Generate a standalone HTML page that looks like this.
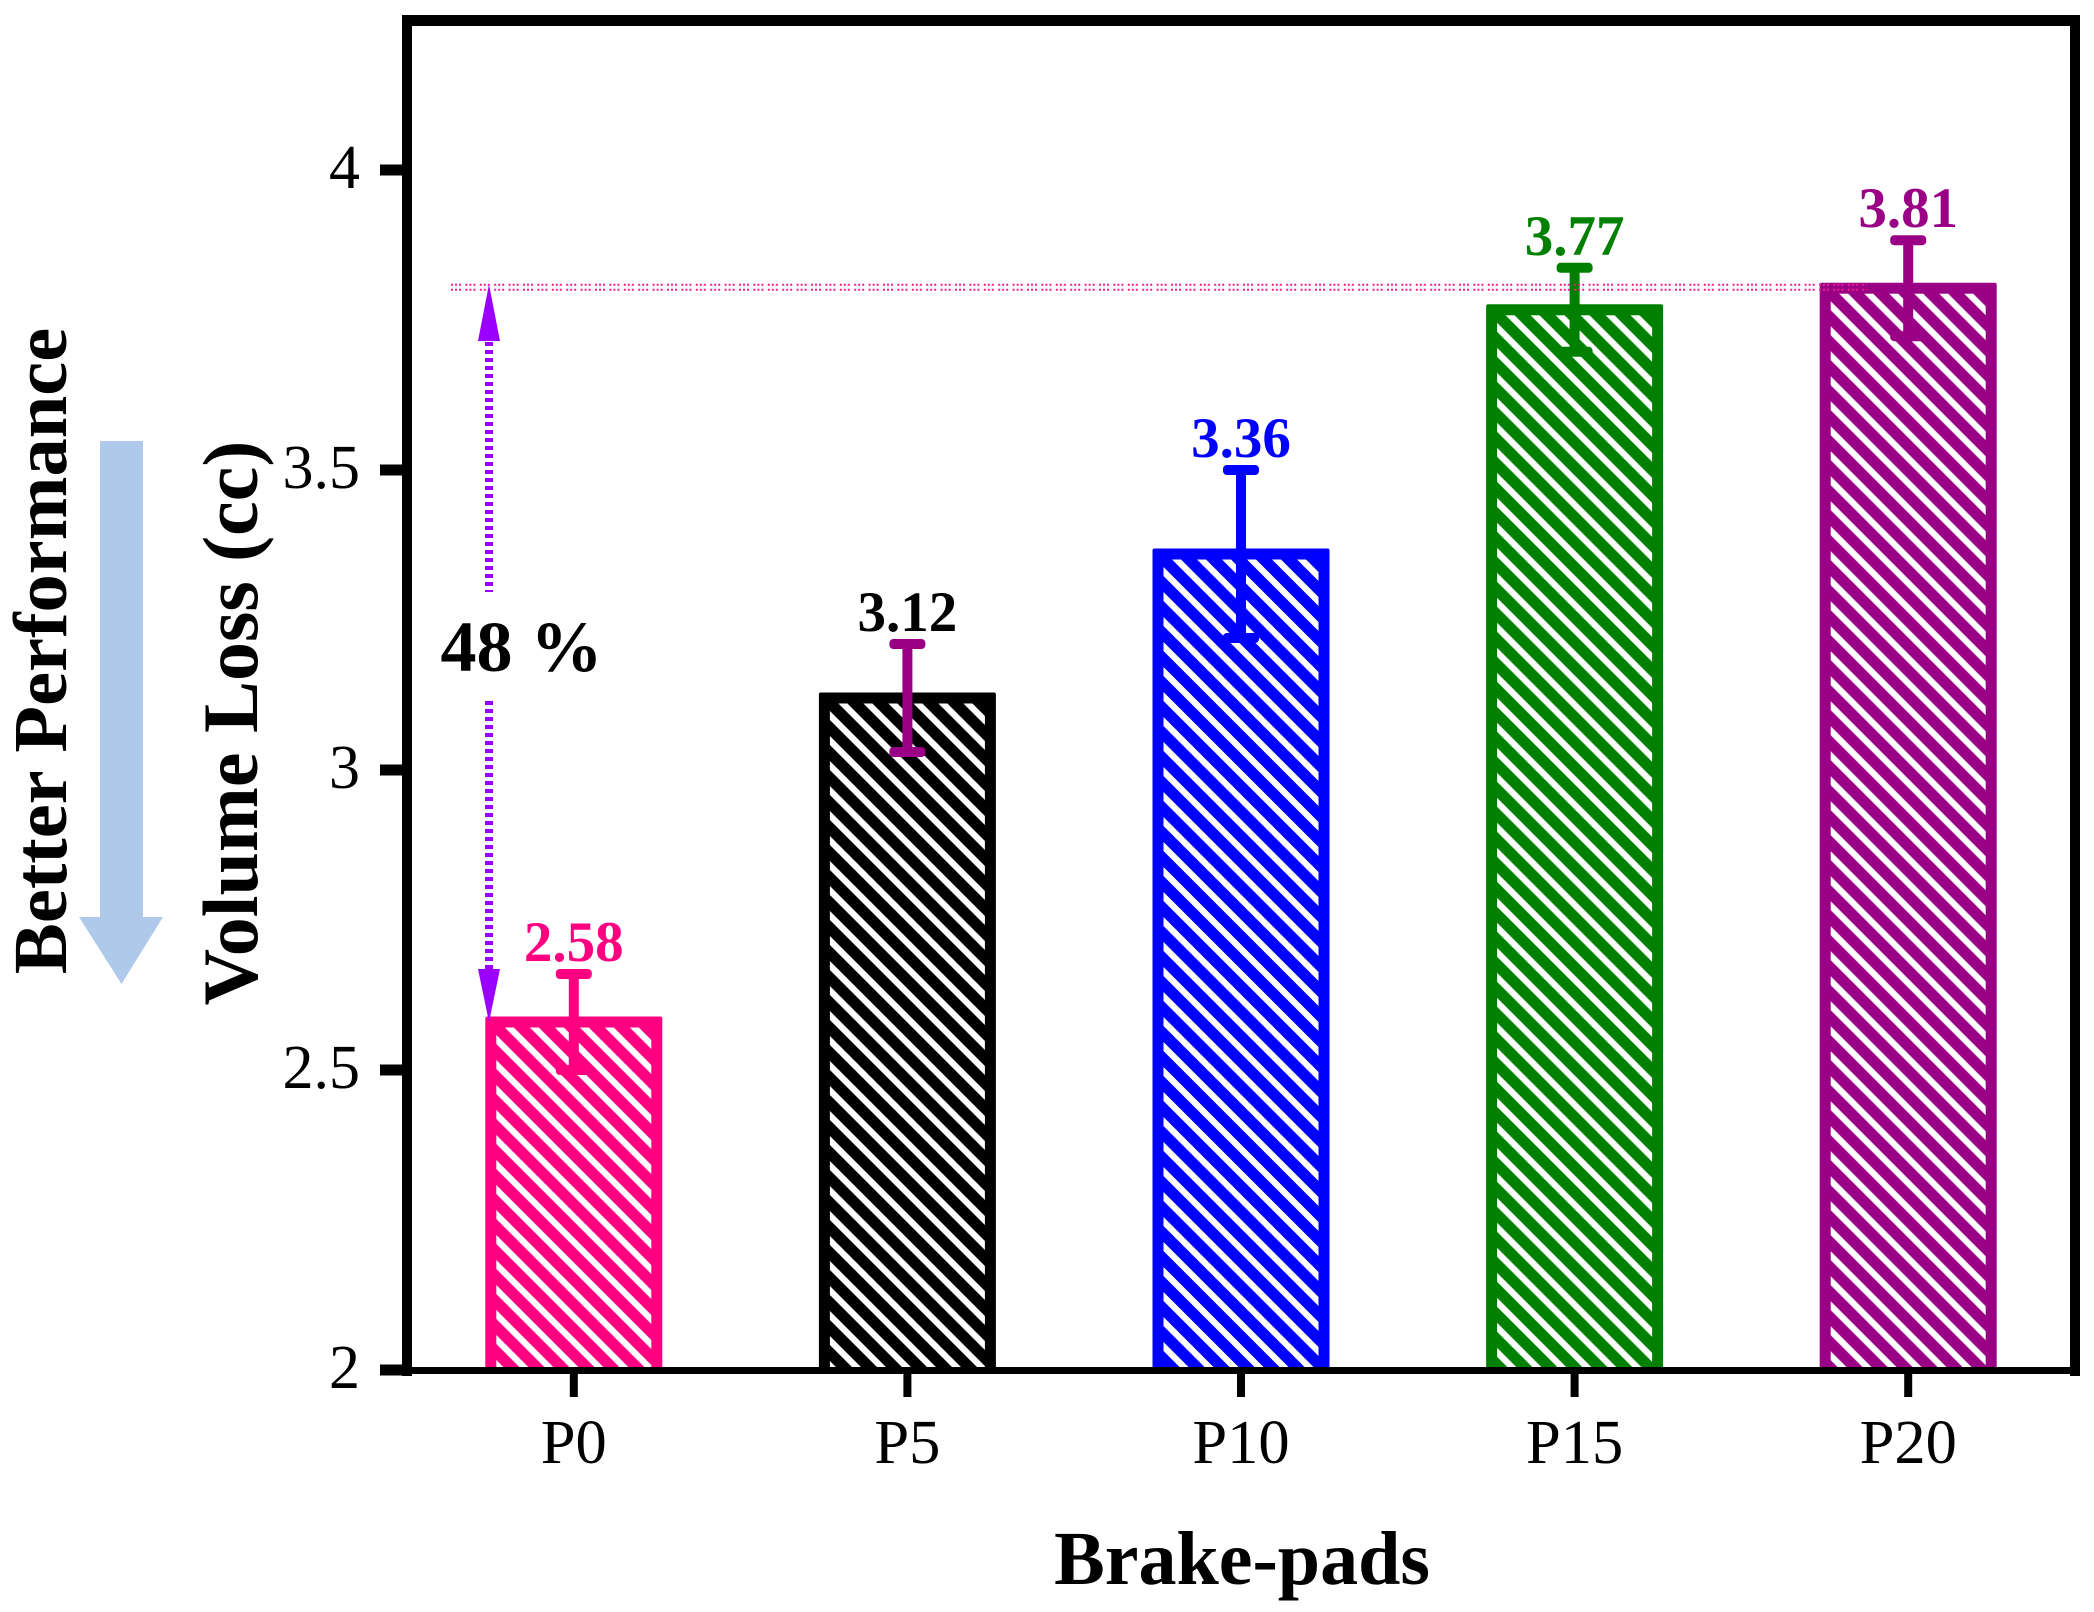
<!DOCTYPE html>
<html lang="en">
<head>
<meta charset="utf-8">
<title>Volume Loss of Brake-pads</title>
<style>
  html, body { margin: 0; padding: 0; background: #fff; }
  svg { display: block; font-family: "Liberation Serif", serif; }
</style>
</head>
<body>
<svg id="chart" xmlns="http://www.w3.org/2000/svg" width="2094" height="1612" viewBox="0 0 2094 1612">
  <rect x="0" y="0" width="2094" height="1612" fill="#ffffff"/>
  <defs id="defs"></defs>
  <g id="bars"></g>
  <g id="errors"></g>
  <g id="values"></g>
  <g id="reference"></g>
  <g id="axes"></g>
  <text x="1242" y="1584" font-size="76" font-weight="bold" text-anchor="middle">Brake-pads</text>
  <text transform="translate(257 723) rotate(-90)" font-size="78" font-weight="bold" text-anchor="middle">Volume Loss (cc)</text>
  <text transform="translate(66 651) rotate(-90)" font-size="76.5" font-weight="bold" text-anchor="middle">Better Performance</text>
  <polygon points="100,441 143,441 143,917 163,917 121.5,984 79,917 100,917" fill="#aec9e9"/>
  <text x="521.5" y="671" font-size="72" font-weight="bold" text-anchor="middle" xml:space="preserve">48 %</text>
</svg>
<script>
// Chart data
const categories = ['P0', 'P5', 'P10', 'P15', 'P20'];
const volumeLoss = [2.58, 3.12, 3.36, 3.767, 3.803];
const errorValues = [0.08, 0.09, 0.14, 0.07, 0.08];
const printedValues = ['2.58', '3.12', '3.36', '3.77', '3.81'];
const yTickValues = [2, 2.5, 3, 3.5, 4];
const yTickLabels = ['2', '2.5', '3', '3.5', '4'];
const barColors = ['#ff0080', '#000000', '#0000ff', '#008000', '#990085'];
const errorColors = ['#ff0080', '#990085', '#0000ff', '#008000', '#990085'];

// Axis functions
const plotLeft = 407, plotRight = 2075, plotTop = 20, plotBottom = 1370;
const yMin = 2, pxPerUnit = 600;
const bandWidth = (plotRight - plotLeft) / categories.length;
const xScale = i => plotLeft + bandWidth * (i + 0.5);
const yScale = v => plotBottom - (v - yMin) * pxPerUnit;

const NS = 'http://www.w3.org/2000/svg';
const make = (parent, tag, attrs, text) => {
  const el = document.createElementNS(NS, tag);
  for (const k in attrs) el.setAttribute(k, attrs[k]);
  if (text !== undefined) el.textContent = text;
  parent.appendChild(el);
  return el;
};

const defs = document.getElementById('defs');
const barsG = document.getElementById('bars');
const errorsG = document.getElementById('errors');
const valuesG = document.getElementById('values');
const refG = document.getElementById('reference');
const axesG = document.getElementById('axes');

const barOuter = 177, border = 11, stem = 10, capW = 36, capH = 10;

categories.forEach((cat, i) => {
  const cx = xScale(i);
  const top = yScale(volumeLoss[i]) - border / 2;
  const left = cx - barOuter / 2;
  const bottom = plotBottom;
  const innerL = left + border, innerT = top + border;
  const color = barColors[i];

  const pat = make(defs, 'pattern', {
    id: 'hatch' + i, patternUnits: 'userSpaceOnUse', width: 25, height: 25,
    patternTransform: 'translate(' + innerL + ' ' + innerT + ')'
  });
  make(pat, 'rect', { x: 0, y: 0, width: 25, height: 25, fill: color });
  make(pat, 'polygon', { points: '8.5,0 17.5,0 25,7.5 25,16.5', fill: '#ffffff' });
  make(pat, 'polygon', { points: '0,7.5 17.5,25 8.5,25 0,16.5', fill: '#ffffff' });

  const frame = make(barsG, 'rect', { x: left, y: top, width: barOuter, height: bottom - top, rx: 2, fill: color });
  
  
  const fill = make(barsG, 'rect', { x: innerL, y: innerT, width: barOuter - 2 * border, height: Math.max(0, bottom - innerT), fill: 'url(#hatch' + i + ')' });
  
  

  const hi = yScale(volumeLoss[i] + errorValues[i]);
  const lo = yScale(volumeLoss[i] - errorValues[i]);
  const ec = errorColors[i];
  const st = make(errorsG, 'rect', { x: cx - stem / 2, y: hi, width: stem, height: lo - hi, fill: ec });
  
  
  const c1 = make(errorsG, 'rect', { x: cx - capW / 2, y: hi - capH / 2, width: capW, height: capH, rx: 4, fill: ec });
  
  
  const c2 = make(errorsG, 'rect', { x: cx - capW / 2, y: lo - capH / 2, width: capW, height: capH, rx: 4, fill: ec });
  
  

  const lab = make(valuesG, 'text', { x: cx, y: hi - 13, 'font-size': 57, 'font-weight': 'bold', 'text-anchor': 'middle', fill: color }, printedValues[i]);
  
  
});

// Reference line at the highest bar + percentage arrows
const maxY = yScale(Math.max(...volumeLoss));
const minY = yScale(Math.min(...volumeLoss));
[-3.5, 1.5].forEach(off => {
  const ln = make(refG, 'line', { x1: 451, x2: 1867, y1: maxY + off, y2: maxY + off, stroke: '#f02090', 'stroke-width': 2, 'stroke-dasharray': '2 2 2 2 2 4.4' });
  
  
});
const arrowX = 489, purple = '#9900ff';
const upHead = make(refG, 'polygon', { points: arrowX + ',' + (maxY - 4) + ' ' + (arrowX + 11) + ',341 ' + (arrowX - 11) + ',341', fill: purple });


const upLine = make(refG, 'line', { x1: arrowX, x2: arrowX, y1: 342, y2: 592, stroke: purple, 'stroke-width': 8, 'stroke-dasharray': '4 4' });


const downLine = make(refG, 'line', { x1: arrowX, x2: arrowX, y1: 701, y2: 969, stroke: purple, 'stroke-width': 8, 'stroke-dasharray': '4 4' });


const downHead = make(refG, 'polygon', { points: arrowX + ',' + minY + ' ' + (arrowX + 11) + ',969 ' + (arrowX - 11) + ',969', fill: purple });



// Frame
const frameLeft = make(axesG, 'rect', { x: 402, y: 15, width: 10, height: 1361, fill: '#000' });


const frameTop = make(axesG, 'rect', { x: 402, y: 15, width: 1678, height: 11, fill: '#000' });


const frameRight = make(axesG, 'rect', { x: 2070, y: 15, width: 10, height: 1361, fill: '#000' });


const frameBottom = make(axesG, 'rect', { x: 402, y: 1367, width: 1678, height: 7, fill: '#000' });



// Y ticks
yTickValues.forEach((v, i) => {
  const y = yScale(v);
  const t = make(axesG, 'rect', { x: 380, y: y - 5.5, width: 24, height: 11, fill: '#000' });
  
  
  const l = make(axesG, 'text', { x: 360, y: y + 18, 'font-size': 62, 'text-anchor': 'end' }, yTickLabels[i]);
  
  
});

// X ticks
categories.forEach((cat, i) => {
  const cx = xScale(i);
  const t = make(axesG, 'rect', { x: cx - 4, y: 1372, width: 8, height: 25, fill: '#000' });
  
  
  const l = make(axesG, 'text', { x: cx, y: 1463, 'font-size': 62.5, 'text-anchor': 'middle' }, cat);
  
  
});
</script>
</body>
</html>
